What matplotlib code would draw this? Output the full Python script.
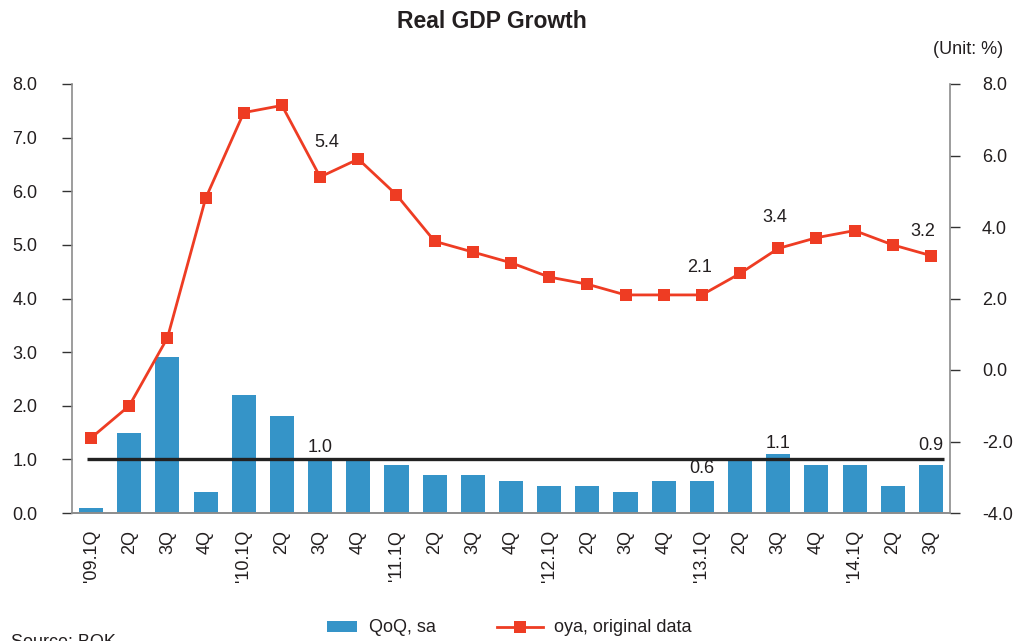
import matplotlib
matplotlib.use("Agg")
import matplotlib.pyplot as plt
from matplotlib.lines import Line2D
from matplotlib.patches import Patch, Rectangle
from matplotlib.legend_handler import HandlerPatch

# Quarterly real GDP growth, 2009Q1-2014Q3
quarters = ["'09.1Q", "2Q", "3Q", "4Q",
            "'10.1Q", "2Q", "3Q", "4Q",
            "'11.1Q", "2Q", "3Q", "4Q",
            "'12.1Q", "2Q", "3Q", "4Q",
            "'13.1Q", "2Q", "3Q", "4Q",
            "'14.1Q", "2Q", "3Q"]
qoq_sa = [0.1, 1.5, 2.9, 0.4,
          2.2, 1.8, 1.0, 1.0,
          0.9, 0.7, 0.7, 0.6,
          0.5, 0.5, 0.4, 0.6,
          0.6, 1.0, 1.1, 0.9,
          0.9, 0.5, 0.9]
oya_original = [-1.9, -1.0, 0.9, 4.8,
                7.2, 7.4, 5.4, 5.9,
                4.9, 3.6, 3.3, 3.0,
                2.6, 2.4, 2.1, 2.1,
                2.1, 2.7, 3.4, 3.7,
                3.9, 3.5, 3.2]
reference_level = 1.0
labelled_quarters = [6, 16, 18, 22]

left_ticks = [0.0, 1.0, 2.0, 3.0, 4.0, 5.0, 6.0, 7.0, 8.0]
right_ticks = [-4.0, -2.0, 0.0, 2.0, 4.0, 6.0, 8.0]

BAR_BLUE = "#3594c8"
LINE_RED = "#ee3c23"
TEXT = "#231f20"
SPINE = "#8c8c8c"
FS = 13

plt.rcParams["font.family"] = ["Liberation Sans", "DejaVu Sans"]
plt.rcParams["text.color"] = TEXT

fig = plt.figure(figsize=(10.16, 6.41), dpi=100)
ax = fig.add_axes([72 / 1016, 1 - 513 / 641, (950 - 72) / 1016, (513 - 84) / 641])
ax2 = ax.twinx()

x = list(range(len(quarters)))
ax.bar(x, qoq_sa, width=0.63, color=BAR_BLUE, zorder=2)
ax.hlines(reference_level, -0.12, 22.35, color="#222222", lw=2.4, zorder=3)

ax2.plot(x, oya_original, color=LINE_RED, lw=2.0, marker="s",
         markersize=8.5, markeredgewidth=0, zorder=4)

ax.set_xlim(-0.5, len(quarters) - 0.5)
ax.set_ylim(0, 8)
ax2.set_ylim(-4, 8)

ax.set_yticks(left_ticks)
ax.set_yticklabels([f"{v:.1f}" for v in left_ticks])
ax2.set_yticks(right_ticks)
ax2.set_yticklabels([f"{v:.1f}" for v in right_ticks])

ax.set_xticks(x)
ax.set_xticklabels(quarters, rotation=90, va="top", ha="center")

for a in (ax, ax2):
    a.spines["top"].set_visible(False)
    for s in ("left", "right", "bottom"):
        a.spines[s].set_color(SPINE)
        a.spines[s].set_linewidth(1.2)
    a.tick_params(axis="y", direction="out", length=7, width=1.0,
                  color="#333333", labelsize=FS, labelcolor=TEXT)
ax.tick_params(axis="y", pad=18)
ax2.tick_params(axis="y", pad=16)
ax.tick_params(axis="x", length=0, labelsize=FS, labelcolor=TEXT, pad=12)
ax2.spines["left"].set_visible(False)
ax.spines["right"].set_visible(False)

# value labels on selected quarters (offsets in pixels)
bar_offsets = [12, 12, 11, 19]
line_offsets = [(7, 34), (-2, 27), (-3, 31), (-8, 24)]
for i, bo, (lx, ly) in zip(labelled_quarters, bar_offsets, line_offsets):
    ax.annotate(f"{qoq_sa[i]:.1f}", (i, qoq_sa[i]), xytext=(0, bo * 0.72),
                textcoords="offset points", ha="center", va="center",
                fontsize=FS, zorder=5)
    ax2.annotate(f"{oya_original[i]:.1f}", (i, oya_original[i]),
                 xytext=(lx * 0.72, ly * 0.72), textcoords="offset points",
                 ha="center", va="center", fontsize=FS, zorder=5)

fig.text(492 / 1016, 1 - 22 / 641, "Real GDP Growth", ha="center", va="center",
         fontsize=16.5, fontweight="bold")
fig.text(1003 / 1016, 1 - 50 / 641, "(Unit: %)", ha="right", va="center",
         fontsize=FS)
fig.text(11 / 1016, 1 - 634 / 641, "Source: BOK", ha="left", va="top",
         fontsize=FS)


def short_patch(legend, orig_handle, xdescent, ydescent, width, height, fontsize):
    w = width * 32 / 47
    return Rectangle((width - w - xdescent, -ydescent), w, height)


handles = [Patch(facecolor=BAR_BLUE, edgecolor="none"),
           Line2D([0], [0], color=LINE_RED, lw=2.0, marker="s",
                  markersize=8.5, markeredgewidth=0)]
fig.legend(handles, ["QoQ, sa", "oya, original data"], ncol=2,
           loc="center", bbox_to_anchor=(502 / 1016, 1 - 628 / 641),
           frameon=False, fontsize=FS, handlelength=2.5,
           handleheight=0.55, columnspacing=3.4, handletextpad=0.65,
           handler_map={Patch: HandlerPatch(patch_func=short_patch)})

fig.savefig("out.png", dpi=100)
